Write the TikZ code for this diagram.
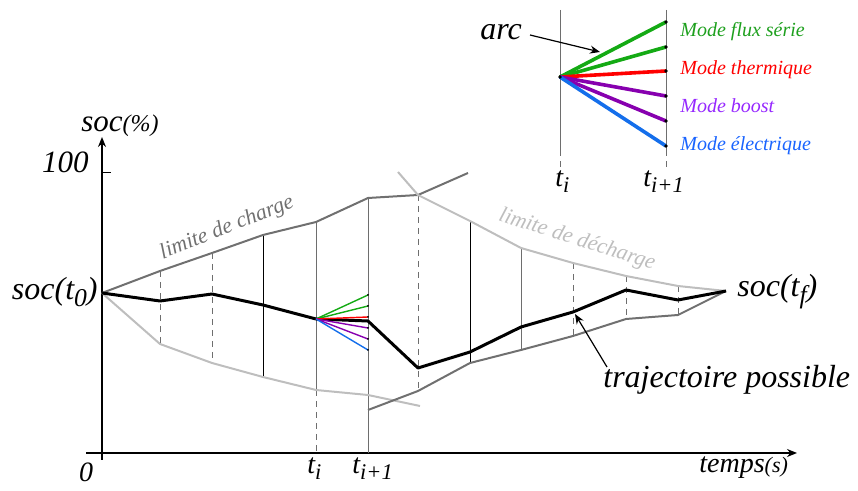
\documentclass[tikz,border=0pt]{standalone}
\usepackage{fontspec}
\setmainfont{Liberation Serif}
\usetikzlibrary{arrows.meta}

\definecolor{limdark}{RGB}{112,112,112}
\definecolor{limlight}{RGB}{190,190,190}
\definecolor{gridgray}{RGB}{110,110,110}
\definecolor{modeflux}{RGB}{20,170,20}
\definecolor{modetherm}{RGB}{255,0,0}
\definecolor{modeboost}{RGB}{135,0,175}
\definecolor{modeelec}{RGB}{20,110,235}
\definecolor{txtflux}{RGB}{30,160,30}
\definecolor{txtboost}{RGB}{150,40,255}
\definecolor{txtelec}{RGB}{25,100,255}

\newcommand{\low}[1]{\raisebox{-0.45ex}{\scalebox{0.8}{#1}}}

\begin{document}
\begin{tikzpicture}[x=0.5pt, y=-0.5pt, >={Stealth[length=5pt, width=4pt]},
  every node/.style={font=\itshape, inner sep=0pt},
  axis/.style={line width=1.1pt},
  traj/.style={line width=1.5pt, line join=round},
  limcharge/.style={line width=1pt, limdark},
  limdecharge/.style={line width=1pt, limlight},
  gridline/.style={line width=0.5pt, gridgray},
  griddash/.style={gridline, dash pattern=on 3pt off 2.5pt},
  mode/.style={line width=1.8pt},
  fan/.style={line width=0.7pt}]

\useasboundingbox (0,0) rectangle (858,491);

% points
\foreach \n/\x/\y in {0/102/293,1/160/301,2/212/294,3/263/305,4/316/319,5/368/321,6/418/368,
                      7/470/352,8/521/327,9/573/312,10/626/290,11/678/300,12/726/291}
  \coordinate (p\n) at (\x,\y);
\foreach \n/\x/\y in {1/160/271,2/212/253,3/263/235,4/316/222,5/368/198,6/418/195,7/468/173}
  \coordinate (u\n) at (\x,\y);
\foreach \n/\x/\y in {1/160/344,2/212/363,3/263/377,4/316/390,5/368/395,6/420/406}
  \coordinate (l\n) at (\x,\y);
\foreach \n/\x/\y in {5/398/172,6/418/195,7/470/221,8/521/248,9/573/263,10/626/276,11/678/286}
  \coordinate (d\n) at (\x,\y);
\foreach \n/\x/\y in {5/368/410,6/418/391,7/470/363,8/521/350,9/573/336,10/626/319,11/678/315}
  \coordinate (r\n) at (\x,\y);
\coordinate (orig) at (102,453);
\coordinate (ti) at (316,453);
\coordinate (tii) at (368,453);

% axes
\draw[axis,->] (86,453) -- (797,453);
\draw[axis,->] (102,460) -- (102,137);
\draw (102,172) -- (111,172);

% time steps
\foreach \a/\b in {u1/l1,u2/l2,d6/r6,d9/r9,d10/r10,d11/r11}
  \draw[griddash] (\a) -- (\b);
\draw[gridline, black] (u3) -- (l3);
\draw[gridline, black] (d7) -- (r7);
\draw[gridline] (d8) -- (r8);
\draw[gridline] (u4) -- (l4);
\draw[griddash] (l4) -- (ti);
\draw[gridline] (u5) -- (tii);

% limits
\draw[limcharge] (p0) -- (u1) -- (u2) -- (u3) -- (u4) -- (u5) -- (u6) -- (u7);
\draw[limdecharge] (p0) -- (l1) -- (l2) -- (l3) -- (l4) -- (l5) -- (l6);
\draw[limdecharge] (d5) -- (d6) -- (d7) -- (d8) -- (d9) -- (d10) -- (d11) -- (p12);
\draw[limcharge] (r5) -- (r6) -- (r7) -- (r8) -- (r9) -- (r10) -- (r11) -- (p12);

\draw[traj] (p0) \foreach \i in {1,...,12} {-- (p\i)};

\foreach \c/\y in {modeflux/295,modeflux/306,modetherm/317,modeboost/328,modeboost/339,modeelec/350} {
  \draw[fan, \c] (p4) -- (368,\y);
  \fill (368,\y) circle (1);
}

% labels
\node[anchor=base east, font=\itshape\fontsize{16}{18}\selectfont] (soc0) at (98,300) {soc(t\low{0})};
\node[anchor=base west, font=\itshape\fontsize{16}{18}\selectfont] (socf) at (737,297) {soc(t\low{f})};
\node[anchor=base west, font=\itshape\fontsize{16}{18}\selectfont] (trajlbl) at (603,388) {trajectoire possible};
\node[anchor=base east, font=\itshape\fontsize{15.5}{18}\selectfont] (centlbl) at (89,173) {100};
\node[anchor=base west, font=\itshape\fontsize{15.5}{18}\selectfont] (soclbl) at (81,132) {soc{\fontsize{12}{14}\selectfont(\%)}};
\node[anchor=base, font=\itshape\fontsize{14}{16}\selectfont] (zero) at (86,482) {0};
\node[anchor=base west, font=\itshape\fontsize{14}{16}\selectfont] (tilbl) at (307,474) {t\low{i}};
\node[anchor=base west, font=\itshape\fontsize{14}{16}\selectfont] (tiilbl) at (352,474) {t\low{i+1}};
\node[anchor=base west, font=\itshape\fontsize{14}{16}\selectfont] (temps) at (699,473) {temps{\fontsize{11}{13}\selectfont(s)}};
\node[font=\itshape\fontsize{11}{13}\selectfont, limdark, rotate=21.6] (charge) at (227,228) {limite de charge};
\node[font=\itshape\fontsize{11}{13}\selectfont, limlight, rotate=-17.7] (decharge) at (577,240) {limite de décharge};

\coordinate (trajpt) at (575,314);
\draw[->, line width=0.6pt] (607,367) -- (trajpt);

% inset
\coordinate (io) at (560,77);
\foreach \x in {560,666} {
  \draw[gridline] (\x,10) -- (\x,150);
  \draw[griddash] (\x,150) -- (\x,167);
}
\foreach \c/\y in {modeflux/22,modeflux/47,modetherm/71,modeboost/96,modeboost/121,modeelec/146} {
  \draw[mode, \c] (io) -- (666,\y);
  \fill (666,\y) circle (1.8);
}
\fill (io) circle (1.8);
\node[anchor=base west, font=\itshape\fontsize{10}{12}\selectfont, txtflux] (flux) at (680,37) {Mode flux série};
\node[anchor=base west, font=\itshape\fontsize{10}{12}\selectfont, modetherm] (therm) at (680,75) {Mode thermique};
\node[anchor=base west, font=\itshape\fontsize{10}{12}\selectfont, txtboost] (boost) at (680,113) {Mode boost};
\node[anchor=base west, font=\itshape\fontsize{10}{12}\selectfont, txtelec] (elec) at (680,151) {Mode électrique};
\node[anchor=base west, font=\itshape\fontsize{16}{18}\selectfont] (arclbl) at (480,40) {arc};
\coordinate (arcpt) at (600,52);
\draw[->, line width=0.6pt] (530,35) -- (arcpt);
\node[anchor=base west, font=\itshape\fontsize{14}{16}\selectfont] (itlbl) at (555,187) {t\low{i}};
\node[anchor=base west, font=\itshape\fontsize{14}{16}\selectfont] (iitlbl) at (643,187) {t\low{i+1}};
\end{tikzpicture}
\end{document}
